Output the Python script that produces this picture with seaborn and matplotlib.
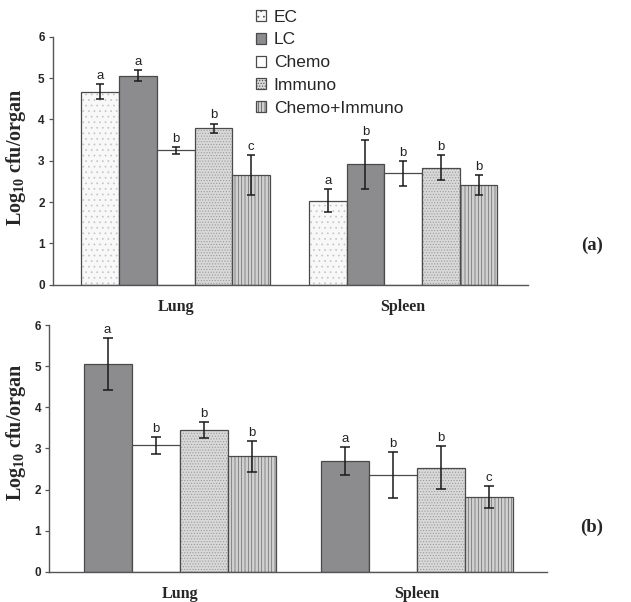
import matplotlib
matplotlib.use("Agg")
import matplotlib.pyplot as plt
import matplotlib.patches as mpatches
from matplotlib.colors import to_rgba
import seaborn as sns
import pandas as pd

# ---- data ----
organs = ["Lung", "Spleen"]

groups_a = ["EC", "LC", "Chemo", "Immuno", "Chemo+Immuno"]
lung_a = [4.67, 5.06, 3.25, 3.78, 2.65]
lung_a_err = [0.18, 0.14, 0.09, 0.12, 0.48]
spleen_a = [2.03, 2.91, 2.70, 2.83, 2.42]
spleen_a_err = [0.28, 0.59, 0.30, 0.30, 0.24]
letters_lung_a = ["a", "a", "b", "b", "c"]
letters_spleen_a = ["a", "b", "b", "b", "b"]

groups_b = ["LC", "Chemo", "Immuno", "Chemo+Immuno"]
lung_b = [5.05, 3.08, 3.45, 2.81]
lung_b_err = [0.63, 0.21, 0.20, 0.37]
spleen_b = [2.69, 2.36, 2.53, 1.82]
spleen_b_err = [0.34, 0.56, 0.52, 0.27]
letters_lung_b = ["a", "b", "b", "b"]
letters_spleen_b = ["a", "b", "b", "c"]

# bar styles
face = {"EC": "#f8f8f8", "LC": "#8c8c8e", "Chemo": "#ffffff",
        "Immuno": "#d9d9d9", "Chemo+Immuno": "#d0d0d0"}
hatch = {"EC": "...", "LC": "", "Chemo": "", "Immuno": "......", "Chemo+Immuno": "|||||"}
hatch_col = {"EC": "#c4c4c4", "LC": "#555555", "Chemo": "#555555",
             "Immuno": "#9a9a9a", "Chemo+Immuno": "#6a6a6a"}

sns.set_style("white")
plt.rcParams["hatch.linewidth"] = 0.5
plt.rcParams["mathtext.fontset"] = "custom"
plt.rcParams["mathtext.rm"] = "Liberation Serif:bold"
plt.rcParams["mathtext.it"] = "Liberation Serif:bold"
plt.rcParams["mathtext.bf"] = "Liberation Serif:bold"

fig = plt.figure(figsize=(6.31, 6.02), dpi=100)
ax1 = fig.add_axes([0.084, 0.527, 0.753, 0.412])
ax2 = fig.add_axes([0.078, 0.050, 0.789, 0.410])


def make_df(groups, lung, spleen):
    rows = []
    for g, v in zip(groups, lung):
        rows.append({"organ": "Lung", "group": g, "val": v})
    for g, v in zip(groups, spleen):
        rows.append({"organ": "Spleen", "group": g, "val": v})
    return pd.DataFrame(rows)


def draw_panel(ax, groups, lung, spleen, lung_err, spleen_err, let_l, let_s,
               width, capsize, xlim, label_xy):
    df = make_df(groups, lung, spleen)
    sns.barplot(data=df, x="organ", y="val", hue="group", order=organs,
                hue_order=groups, errorbar=None, width=width, ax=ax,
                palette=[face[g] for g in groups], saturation=1, legend=False)
    bars = list(ax.containers)
    for g, cont in zip(groups, bars):
        for p in cont:
            p.set_facecolor(face[g])
            p.set_edgecolor("#4a4a4a")
            p.set_linewidth(0.9)
            if hatch[g]:
                p.set_hatch(hatch[g])
                p._hatch_color = to_rgba(hatch_col[g])
    errs = [lung_err, spleen_err]
    lets = [let_l, let_s]
    for i, cont in enumerate(bars):
        for j, p in enumerate(cont):
            xc = p.get_x() + p.get_width() / 2
            h = p.get_height()
            e = errs[j][i]
            ax.errorbar(xc, h, yerr=e, fmt="none", ecolor="#1a1a1a",
                        elinewidth=1.1, capsize=capsize, capthick=1.1)
            ax.text(xc, h + e + 0.05, lets[j][i], ha="center", va="bottom",
                    fontsize=9.5, family="Liberation Sans", color="#222222")
    ax.set_ylim(0, 6)
    ax.set_xlim(*xlim)
    ax.set_yticks(range(0, 7))
    ax.set_xlabel("")
    ax.set_ylabel(r"Log$_{10}$ cfu/organ", family="Liberation Serif",
                  fontweight="bold", fontsize=14.5)
    ax.yaxis.set_label_coords(*label_xy)
    for s in ["top", "right"]:
        ax.spines[s].set_visible(False)
    for s in ["left", "bottom"]:
        ax.spines[s].set_color("#555555")
        ax.spines[s].set_linewidth(1.0)
    ax.tick_params(axis="y", left=True, length=3, width=0.9, color="#555555",
                   labelsize=8.5, pad=3)
    ax.tick_params(axis="x", bottom=False, pad=7)
    for t in ax.get_yticklabels():
        t.set_family("Liberation Sans")
        t.set_fontweight("bold")
    for t in ax.get_xticklabels():
        t.set_family("Liberation Serif")
        t.set_fontweight("bold")
        t.set_fontsize(11.5)


draw_panel(ax1, groups_a, lung_a, spleen_a, lung_a_err, spleen_a_err,
           letters_lung_a, letters_spleen_a, 0.83, 2.8, (-0.54, 1.55),
           (-0.053, 0.516))
draw_panel(ax2, groups_b, lung_b, spleen_b, lung_b_err, spleen_b_err,
           letters_lung_b, letters_spleen_b, 0.81, 3.6, (-0.55, 1.55),
           (-0.042, 0.567))

# legend for panel (a)
handles = []
for g in groups_a:
    hp = mpatches.Patch(facecolor=face[g], edgecolor="#4a4a4a", hatch=hatch[g],
                        linewidth=0.9, label=g)
    handles.append(hp)
leg = fig.legend(handles=handles, loc="upper left",
                 bbox_to_anchor=(246 / 631, 1.0), frameon=False,
                 prop={"family": "Liberation Sans", "size": 12.5},
                 handlelength=0.6, handleheight=0.6, handletextpad=0.45,
                 labelspacing=0.45, borderpad=0.05)

fig.text(592 / 631, 1 - 245 / 602, "(a)", family="Liberation Serif",
         fontweight="bold", fontsize=13.5, ha="center", va="center")
fig.text(592 / 631, 1 - 527 / 602, "(b)", family="Liberation Serif",
         fontweight="bold", fontsize=13.5, ha="center", va="center")

fig.savefig("out.png", dpi=100)
